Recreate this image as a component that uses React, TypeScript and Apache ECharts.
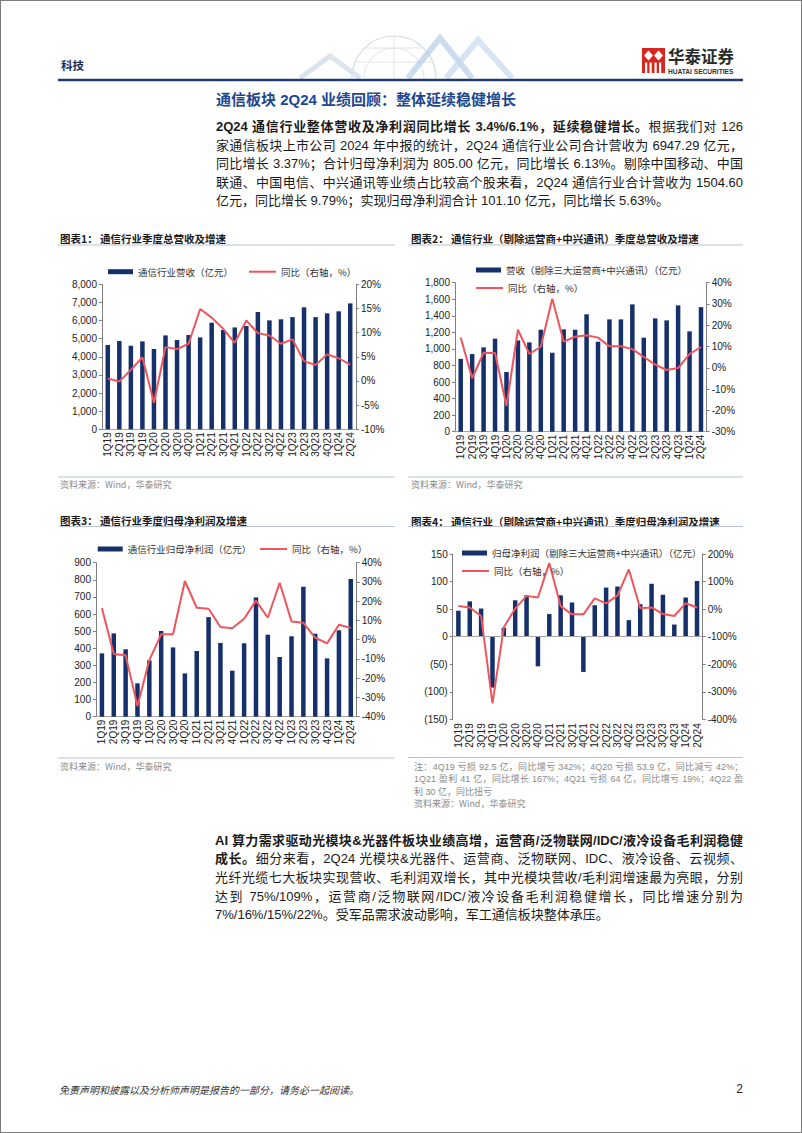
import React, { useEffect, useRef } from 'react';
import * as echarts from 'echarts';

const quarters = ['1Q19','2Q19','3Q19','4Q19','1Q20','2Q20','3Q20','4Q20','1Q21','2Q21','3Q21','4Q21','1Q22','2Q22','3Q22','4Q22','1Q23','2Q23','3Q23','4Q23','1Q24','2Q24'];

// Chart 1: 通信行业营收（亿元）/ 同比
const rev1 = [4650,4870,4610,4850,4430,5180,4930,5200,5070,5880,5480,5620,5700,6470,6010,6070,6190,6730,6190,6400,6510,6947.29];
const yoy1 = [0.5,-0.1,2.3,4.9,-4.5,7.0,6.6,7.7,14.9,13.1,10.8,7.9,12.5,9.9,9.4,7.7,8.6,4.1,3.3,5.5,4.7,3.37];
// Chart 2: 营收（剔除三大运营商+中兴通讯）
const rev2 = [880,938,1019,1124,721,1103,1079,1232,954,1236,1232,1418,1087,1357,1357,1538,1136,1369,1345,1526,1212,1504.6];
const yoy2 = [14.3,-4.9,7.1,7.0,-17.9,17.9,6.5,9.9,32.5,12.3,14.6,15.3,14.2,10.1,10.1,8.8,5.1,1.5,-1.0,-0.1,6.5,9.79];
// Chart 3: 通信行业归母净利润
const np3 = [370,487,394,195,329,501,405,253,384,582,431,269,429,697,479,349,470,760,485,341,505,805];
const yoy3 = [16.4,-7.4,-8.1,-34.5,-10.6,2.8,2.8,30.5,16.6,16.1,6.6,5.9,10.9,20.3,11.4,29.6,9.5,8.8,1.0,-1.9,7.8,6.13];
// Chart 4: 归母净利润（剔除三大运营商+中兴通讯）
const np4 = [47,64,51,-92.5,16,66,75,-53.9,41,75,62,-64,57,89,91,30,59,96,76,22,71,101.1];
const yoy4 = [11,6,-25,-342,-66,2,48,42,167,11,-19,-19,39,21,49,144,3,6,-18,-25,21,6];

const titles = [
  '图表1： 通信行业季度总营收及增速',
  '图表2： 通信行业（剔除运营商+中兴通讯）季度总营收及增速',
  '图表3： 通信行业季度归母净利润及增速',
  '图表4： 通信行业（剔除运营商+中兴通讯）季度归母净利润及增速',
];
const barNames = ['通信行业营收（亿元）', '营收（剔除三大运营商+中兴通讯）（亿元）', '通信行业归母净利润（亿元）', '归母净利润（剔除三大运营商+中兴通讯）（亿元）'];
const lineName = '同比（右轴，%）';
const sourceText = '资料来源：Wind，华泰研究';

const para1 = [
  { b: '2Q24 通信行业整体营收及净利润同比增长 3.4%/6.1%，延续稳健增长。', t: '根据我们对 126' },
  { b: '', t: '家通信板块上市公司 2024 年中报的统计，2Q24 通信行业公司合计营收为 6947.29 亿元，' },
  { b: '', t: '同比增长 3.37%；合计归母净利润为 805.00 亿元，同比增长 6.13%。剔除中国移动、中国' },
  { b: '', t: '联通、中国电信、中兴通讯等业绩占比较高个股来看，2Q24 通信行业合计营收为 1504.60' },
  { b: '', t: '亿元，同比增长 9.79%；实现归母净利润合计 101.10 亿元，同比增长 5.63%。' },
];
const para2 = [
  { b: 'AI 算力需求驱动光模块&光器件板块业绩高增，运营商/泛物联网/IDC/液冷设备毛利润稳健', t: '' },
  { b: '成长。', t: '细分来看，2Q24 光模块&光器件、运营商、泛物联网、IDC、液冷设备、云视频、' },
  { b: '', t: '光纤光缆七大板块实现营收、毛利润双增长，其中光模块营收/毛利润增速最为亮眼，分别' },
  { b: '', t: '达到 75%/109%，运营商/泛物联网/IDC/液冷设备毛利润稳健增长，同比增速分别为' },
  { b: '', t: '7%/16%/15%/22%。受军品需求波动影响，军工通信板块整体承压。' },
];
const notes4 = [
  '注：4Q19 亏损 92.5 亿，同比增亏 342%；4Q20 亏损 53.9 亿，同比减亏 42%；',
  '1Q21 盈利 41 亿，同比增长 167%；4Q21 亏损 64 亿，同比增亏 19%；4Q22 盈',
  '利 30 亿，同比扭亏',
];

const FONT = "'Liberation Sans','Noto Sans CJK SC',sans-serif";
const CJK = "'Noto Sans CJK SC','Liberation Sans',sans-serif";
const NAVY = '#16306c';
const RED = '#f0545c';
const AXIS = '#7f7f7f';

const comma = (v: number) => v.toLocaleString('en-US');
const pct = (v: number) => v + '%';
const paren = (v: number) => (v < 0 ? '(' + -v + ')' : String(v));

const charts = [
  { grid: { left: 102, top: 284.3, width: 254, height: 145 }, bar: rev1, line: yoy1, l: [0, 8000, 1000], r: [-10, 20, 5], lf: comma, lgBar: [108, 265.7], lgLine: [249, 265.7], zero: false },
  { grid: { left: 455, top: 282.7, width: 251.7, height: 149 }, bar: rev2, line: yoy2, l: [0, 1800, 200], r: [-30, 40, 10], lf: comma, lgBar: [476, 264], lgLine: [476, 282], zero: false },
  { grid: { left: 96, top: 562.7, width: 260.7, height: 154 }, bar: np3, line: yoy3, l: [0, 900, 100], r: [-40, 40, 10], lf: comma, lgBar: [97.7, 543], lgLine: [260, 543], zero: false },
  { grid: { left: 452.7, top: 554, width: 250, height: 165.3 }, bar: np4, line: yoy4, l: [-150, 150, 50], r: [-400, 200, 100], lf: paren, lgBar: [462, 547], lgLine: [462, 565], zero: true },
];

const titlePos = [[60, 238.3, 58, 395, 245], [411, 238.3, 408, 743, 245], [60, 520, 58, 395, 526.5], [411, 521, 408, 743, 526.5]];
const sourcePos = [[60, 484, 58, 395, 477], [411, 484, 408, 743, 477], [60, 766, 58, 395, 758], [414, 803.3, 408, 743, 757.5]];

function buildOption() {
  const grid: any[] = [];
  const xAxis: any[] = [];
  const yAxis: any[] = [];
  const series: any[] = [];
  const legend: any[] = [];
  const labelBase = { fontSize: 10, color: '#222', fontFamily: FONT };
  charts.forEach((c, i) => {
    grid.push({ ...c.grid, containLabel: false });
    xAxis.push({
      type: 'category', gridIndex: i, data: quarters,
      axisLine: { show: !c.zero, lineStyle: { color: '#a6a6a6', width: 1 } },
      axisTick: { show: false },
      axisLabel: { ...labelBase, rotate: 90, interval: 0, margin: c.zero ? 4 : 3 },
    });
    yAxis.push({
      type: 'value', gridIndex: i, position: 'left', min: c.l[0], max: c.l[1], interval: c.l[2],
      splitLine: { show: false },
      axisLine: { show: true, lineStyle: { color: AXIS } },
      axisTick: { show: true, length: 3, lineStyle: { color: AXIS } },
      axisLabel: { ...labelBase, margin: 5, formatter: c.lf },
    });
    yAxis.push({
      type: 'value', gridIndex: i, position: 'right', min: c.r[0], max: c.r[1], interval: c.r[2],
      splitLine: { show: false },
      axisLine: { show: true, lineStyle: { color: AXIS } },
      axisTick: { show: true, length: 3, lineStyle: { color: AXIS } },
      axisLabel: { ...labelBase, margin: 5, formatter: pct },
    });
    const bar: any = {
      type: 'bar', name: barNames[i], xAxisIndex: i, yAxisIndex: 2 * i, data: c.bar,
      barWidth: 4.5, itemStyle: { color: NAVY },
    };
    if (c.zero) {
      bar.markLine = {
        silent: true, symbol: 'none', label: { show: false },
        lineStyle: { color: '#a6a6a6', type: 'solid', width: 1 },
        data: [{ yAxis: 0 }],
      };
    }
    series.push(bar);
    series.push({
      type: 'line', name: lineName, xAxisIndex: i, yAxisIndex: 2 * i + 1, data: c.line,
      symbol: 'none', lineStyle: { color: RED, width: 2 }, itemStyle: { color: RED },
    });
    const lgText = { fontSize: 9.5, color: '#333', fontFamily: CJK, lineHeight: 12 };
    legend.push({
      left: c.lgBar[0], top: c.lgBar[1], padding: 0, data: [barNames[i]], icon: 'rect',
      itemWidth: 25, itemHeight: 5, itemGap: 0, textStyle: lgText, selectedMode: false,
    });
    legend.push({
      left: c.lgLine[0], top: c.lgLine[1], padding: 0, data: [lineName], icon: 'rect',
      itemWidth: 27, itemHeight: 2, itemGap: 0, textStyle: lgText, selectedMode: false,
      itemStyle: { color: RED },
    });
  });

  const graphic: any[] = [];
  // header decoration
  graphic.push({ type: 'arc', shape: { cx: 394, cy: 78, r: 42, startAngle: Math.PI, endAngle: 2 * Math.PI }, style: { stroke: '#d3dae5', lineWidth: 1.2, fill: 'none' } });
  graphic.push({ type: 'arc', shape: { cx: 394, cy: 78, r: 30, startAngle: Math.PI, endAngle: 2 * Math.PI }, style: { stroke: '#dfe4ec', lineWidth: 1, fill: 'none' } });
  graphic.push({ type: 'line', shape: { x1: 394, y1: 36, x2: 394, y2: 78 }, style: { stroke: '#dfe4ec', lineWidth: 1 } });
  graphic.push({ type: 'line', shape: { x1: 364, y1: 48, x2: 424, y2: 48 }, style: { stroke: '#dfe4ec', lineWidth: 1 } });
  graphic.push({ type: 'line', shape: { x1: 356, y1: 62, x2: 432, y2: 62 }, style: { stroke: '#dfe4ec', lineWidth: 1 } });
  graphic.push({ type: 'polyline', shape: { points: [[300, 78], [330, 56], [360, 78]] }, style: { stroke: '#dbe3ee', lineWidth: 5, fill: 'none' } });
  graphic.push({ type: 'polyline', shape: { points: [[408, 78], [440, 38], [472, 78]] }, style: { stroke: '#b7cde8', lineWidth: 6, fill: 'none', opacity: 0.7 } });
  graphic.push({ type: 'polyline', shape: { points: [[446, 78], [478, 40], [512, 78]] }, style: { stroke: '#c9d8ec', lineWidth: 6, fill: 'none', opacity: 0.7 } });
  graphic.push({ type: 'text', x: 61, y: 65, style: { text: '科技', font: `bold 11.5px ${CJK}`, fill: '#1b2d5e', textVerticalAlign: 'middle', verticalAlign: 'middle' } });
  // logo
  graphic.push({ type: 'rect', shape: { x: 642, y: 48, width: 23, height: 25 }, style: { fill: '#d7261d' } });
  graphic.push({ type: 'polygon', shape: { points: [[648.5, 50.5], [653, 55.5], [648.5, 60.5], [644, 55.5]] }, style: { fill: '#fff' } });
  graphic.push({ type: 'polygon', shape: { points: [[658.5, 50.5], [663, 55.5], [658.5, 60.5], [654, 55.5]] }, style: { fill: '#fff' } });
  [645, 649.5, 654.5, 659].forEach((x) => {
    graphic.push({ type: 'rect', shape: { x, y: 62.5, width: 2.2, height: 10.5 }, style: { fill: '#fff' } });
  });
  graphic.push({ type: 'text', x: 668, y: 55.5, style: { text: '华泰证券', font: `bold 16.5px ${CJK}`, fill: '#2a2a2a', textVerticalAlign: 'middle', verticalAlign: 'middle' } });
  graphic.push({ type: 'text', x: 668, y: 71.5, style: { text: 'HUATAI SECURITIES', font: `bold 6.6px ${FONT}`, fill: '#333', textVerticalAlign: 'middle', verticalAlign: 'middle' } });
  graphic.push({ type: 'line', shape: { x1: 58, y1: 80, x2: 743, y2: 80 }, style: { stroke: '#1f3a70', lineWidth: 2.5 } });

  titles.forEach((t, i) => {
    const p = titlePos[i];
    graphic.push({ type: 'text', x: p[0], y: p[1], style: { text: t, font: `bold 10.5px ${CJK}`, fill: '#1a1a1a', textVerticalAlign: 'middle', verticalAlign: 'middle' } });
    graphic.push({ type: 'line', shape: { x1: p[2], y1: p[4], x2: p[3], y2: p[4] }, style: { stroke: '#b9c3d2', lineWidth: 1.2 } });
    const s = sourcePos[i];
    graphic.push({ type: 'line', shape: { x1: s[2], y1: s[4], x2: s[3], y2: s[4] }, style: { stroke: '#b9c3d2', lineWidth: 1.2 } });
    graphic.push({ type: 'text', x: s[0], y: s[1], style: { text: sourceText, font: `9px ${CJK}`, fill: '#8a8a8a', textVerticalAlign: 'middle', verticalAlign: 'middle' } });
  });

  graphic.push({ type: 'text', x: 59, y: 1089, style: { text: '免责声明和披露以及分析师声明是报告的一部分，请务必一起阅读。', font: `italic 10px ${CJK}`, fill: '#333', textVerticalAlign: 'middle', verticalAlign: 'middle' } });
  graphic.push({ type: 'text', x: 743, y: 1089, style: { text: '2', font: `12px ${FONT}`, fill: '#222', textAlign: 'right', align: 'right', textVerticalAlign: 'middle', verticalAlign: 'middle' } });

  return { animation: false, grid, xAxis, yAxis, series, legend, graphic, textStyle: { fontFamily: FONT } };
}

function Line({ top, left, width, size, lh, b, t, last, color }: any) {
  return (
    <div
      style={{
        position: 'absolute', top, left, width, height: lh, lineHeight: lh + 'px', fontSize: size,
        fontFamily: FONT, color: color || '#1a1a1a', textAlign: 'justify',
        textAlignLast: last ? 'left' : 'justify', whiteSpace: 'normal', overflow: 'visible',
      } as any}
    >
      {b ? <b style={{ fontWeight: 700 }}>{b}</b> : null}
      {t}
    </div>
  );
}

export default function App() {
  const ref = useRef<HTMLDivElement>(null);
  useEffect(() => {
    if (!ref.current) return;
    const chart = echarts.init(ref.current, undefined, { renderer: 'svg' });
    chart.setOption(buildOption() as any);
    return () => chart.dispose();
  }, []);
  return (
    <div style={{ position: 'absolute', left: 0, top: 0, width: 802, height: 1133, background: '#fff', overflow: 'hidden' }}>
      <div ref={ref} style={{ position: 'absolute', left: 0, top: 0, width: 802, height: 1133 }} />
      <div style={{ position: 'absolute', left: 216, top: 91, fontSize: 15, lineHeight: '18px', fontWeight: 700, color: '#22468f', fontFamily: FONT, whiteSpace: 'nowrap' }}>
        通信板块 2Q24 业绩回顾：整体延续稳健增长
      </div>
      {para1.map((l, i) => (
        <Line key={'p1' + i} top={118 + i * 18.6} left={216} width={527} size={13} lh={18.6} b={l.b} t={l.t} last={i === para1.length - 1} />
      ))}
      {para2.map((l, i) => (
        <Line key={'p2' + i} top={831.7 + i * 18.6} left={215} width={528} size={13} lh={18.6} b={l.b} t={l.t} last={i === para2.length - 1} />
      ))}
      {notes4.map((l, i) => (
        <Line key={'n' + i} top={760.5 + i * 12.5} left={414} width={329} size={9} lh={12.5} b="" t={l} last={i === notes4.length - 1} color="#8a8a8a" />
      ))}
      <div style={{ position: 'absolute', left: 0, top: 0, width: 802, height: 1133, boxSizing: 'border-box', border: '1px solid #7a7a7a', pointerEvents: 'none' }} />
    </div>
  );
}
